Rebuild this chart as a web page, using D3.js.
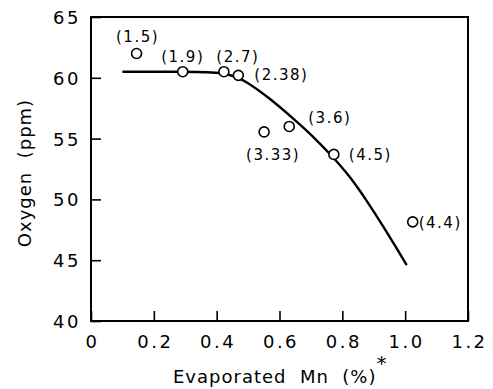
<!DOCTYPE html>
<html>
<head>
<meta charset="utf-8">
<script src="https://cdn.jsdelivr.net/npm/d3@7"></script>
<style>
  body { margin: 0; background: #fff; }
  svg text { font-family: "DejaVu Sans", sans-serif; fill: #000; white-space: pre; }
</style>
</head>
<body>
<svg id="chart" width="493" height="389"></svg>
<script>
// measured points: evaporated Mn (%) vs oxygen (ppm), label in brackets
var mnEvap = [0.145, 0.292, 0.423, 0.469, 0.551, 0.631, 0.773, 1.024];
var oxygen = [62.0, 60.5, 60.5, 60.2, 55.55, 56.0, 53.7, 48.15];
var pointLabels = ["(1.5)", "(1.9)", "(2.7)", "(2.38)", "(3.33)", "(3.6)", "(4.5)", "(4.4)"];

// fitted curve
var curveMn = [0.10, 0.30, 0.43, 0.49, 0.57, 0.655, 0.71, 0.766, 0.824, 0.88, 0.93, 0.97, 1.005];
var curveO2 = [60.5, 60.5, 60.45, 59.8, 58.3, 56.4, 55.1, 53.6, 51.9, 49.8, 47.8, 46.1, 44.6];

var xTicks = [0, 0.2, 0.4, 0.6, 0.8, 1.0, 1.2];
var yTicks = [40, 45, 50, 55, 60, 65];

// label placement relative to each circle
var labelDx = [1, 0, 14, 16, 9, 19, 15, 6];
var labelDy = [-11, -10, -10, 5, 28, -3, 6, 6];
var labelAnchor = ["middle", "middle", "middle", "start", "middle", "start", "start", "start"];

var svg = d3.select("#chart");

var x = d3.scaleLinear().domain([0, 1.2]).range([91, 468]);
var y = d3.scaleLinear().domain([40, 65]).range([321, 17]);

// axes, ticks pointing inward
var xAxis = d3.axisBottom(x).tickValues(xTicks).tickSize(-10).tickPadding(14)
    .tickFormat(function (d) { return d === 0 ? "0" : d3.format(".1f")(d); });
var yAxis = d3.axisLeft(y).tickValues(yTicks).tickSize(-10).tickPadding(10);

var gx = svg.append("g").attr("transform", "translate(0,321)").call(xAxis);
var gy = svg.append("g").attr("transform", "translate(91,0)").call(yAxis);

[gx, gy].forEach(function (g) {
    g.select(".domain").remove();
    g.selectAll(".tick line").attr("stroke", "#000").attr("stroke-width", 1.6);
    g.selectAll(".tick text")
        .style("font-family", "DejaVu Sans, sans-serif")
        .style("font-size", "18px")
        .style("letter-spacing", "2.5px")
        .attr("fill", "#000");
});
gy.selectAll(".tick text").attr("dy", "0.36em");
gx.selectAll(".tick text").attr("dx", "1px");

// frame
svg.append("rect")
    .attr("x", x(0)).attr("y", y(65))
    .attr("width", x(1.2) - x(0)).attr("height", y(40) - y(65))
    .attr("fill", "none").attr("stroke", "#000").attr("stroke-width", 2);

// curve
var curveData = curveMn.map(function (d, i) { return [d, curveO2[i]]; });
var line = d3.line()
    .x(function (d) { return x(d[0]); })
    .y(function (d) { return y(d[1]); })
    .curve(d3.curveBasis);

svg.append("path")
    .datum(curveData)
    .attr("d", line)
    .attr("fill", "none")
    .attr("stroke", "#000")
    .attr("stroke-width", 2.4);

// points
var pts = mnEvap.map(function (d, i) {
    return { mn: d, o2: oxygen[i], label: pointLabels[i], dx: labelDx[i], dy: labelDy[i], anchor: labelAnchor[i] };
});

svg.selectAll("circle.pt")
    .data(pts)
    .enter().append("circle")
    .attr("class", "pt")
    .attr("cx", function (d) { return x(d.mn); })
    .attr("cy", function (d) { return y(d.o2); })
    .attr("r", 5)
    .attr("fill", "#fff")
    .attr("stroke", "#000")
    .attr("stroke-width", 1.6);

svg.selectAll("text.lbl")
    .data(pts)
    .enter().append("text")
    .attr("class", "lbl")
    .attr("x", function (d) { return x(d.mn) + d.dx; })
    .attr("y", function (d) { return y(d.o2) + d.dy; })
    .attr("text-anchor", function (d) { return d.anchor; })
    .style("font-size", "15px")
    .style("letter-spacing", "1.5px")
    .text(function (d) { return d.label; });

// axis titles
var xt = svg.append("text")
    .attr("x", 173).attr("y", 383)
    .attr("text-anchor", "start")
    .style("font-size", "18px")
    .style("letter-spacing", "1px")
    .text("Evaporated  Mn  (%)");
xt.append("tspan")
    .attr("dy", -13).attr("dx", 0)
    .style("font-size", "20px")
    .text("*");

svg.append("text")
    .attr("transform", "translate(31,173) rotate(-90)")
    .attr("text-anchor", "middle")
    .style("font-size", "18px")
    .style("letter-spacing", "1px")
    .text("Oxygen  (ppm)");
</script>
</body>
</html>
